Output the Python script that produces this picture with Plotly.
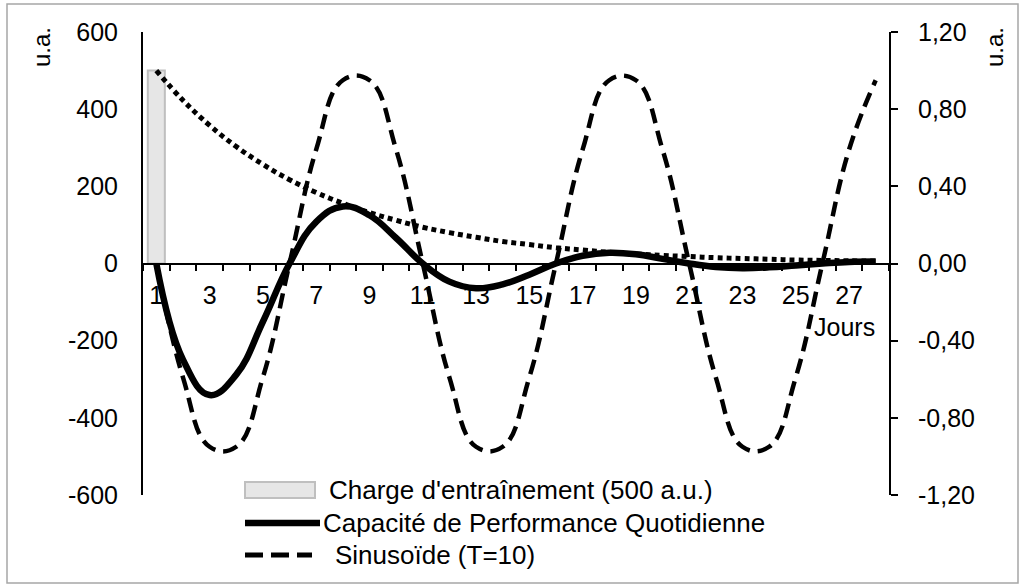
import plotly.graph_objects as go

# ---------------- data ----------------
jours = list(range(1, 29))
charge_jours = [1]
charge = [500]
decroissance = [500, 423, 358, 303, 257, 217, 184, 156, 132, 112, 94, 80, 68, 57,
                49, 41, 35, 29, 25, 21, 18, 15, 13, 11, 9, 8, 7, 6]
capacite = [0, -249, -341, -288, -151, 0, 108, 148, 125, 66, 0, -47, -64, -54,
            -29, 0, 20, 28, 24, 12, 0, -9, -12, -10, -5, 0, 4, 5]
sinus = [0, -0.59, -0.95, -0.95, -0.59, 0, 0.59, 0.95, 0.95, 0.59,
         0, -0.59, -0.95, -0.95, -0.59, 0, 0.59, 0.95, 0.95, 0.59,
         0, -0.59, -0.95, -0.95, -0.59, 0, 0.59, 0.95]
x_tick_vals = [1, 3, 5, 7, 9, 11, 13, 15, 17, 19, 21, 23, 25, 27]
y_tick_vals = [-600, -400, -200, 0, 200, 400, 600]
y_tick_text = ["-600", "-400", "-200", "0", "200", "400", "600"]
y2_tick_vals = [-1.2, -0.8, -0.4, 0, 0.4, 0.8, 1.2]
y2_tick_text = ["-1,20", "-0,80", "-0,40", "0,00", "0,40", "0,80", "1,20"]
legend_labels = ["Charge d'entraînement (500 a.u.)",
                 "Capacité de Performance Quotidienne",
                 "Sinusoïde (T=10)"]

# ---------------- layout geometry ----------------
W, H = 1024, 588
ML, MR, MT, MB = 143, 135, 32, 93
PW, PH = W - ML - MR, H - MT - MB


def px(x):
    return (x - ML) / PW


def py(y):
    return (H - MB - y) / PH


FONT = "Liberation Sans, Arial, sans-serif"
FS = 25
FS_LEG = 26
SMOOTH = 1.2

fig = go.Figure()

fig.add_trace(go.Bar(x=charge_jours, y=charge, width=0.64,
                     marker=dict(color="#e6e6e6", line=dict(color="#bfbfbf", width=2)),
                     yaxis="y"))
fig.add_trace(go.Scatter(x=jours, y=decroissance, mode="lines",
                         line=dict(color="black", width=5, dash="5px,4px",
                                   shape="spline", smoothing=SMOOTH),
                         yaxis="y"))
fig.add_trace(go.Scatter(x=jours, y=capacite, mode="lines",
                         line=dict(color="black", width=6.5, shape="spline", smoothing=SMOOTH),
                         yaxis="y"))
fig.add_trace(go.Scatter(x=jours, y=sinus, mode="lines",
                         line=dict(color="black", width=4.5, dash="15px,8px",
                                   shape="spline", smoothing=SMOOTH),
                         yaxis="y2"))

fig.update_layout(
    width=W, height=H,
    margin=dict(l=ML, r=MR, t=MT, b=MB, pad=0),
    paper_bgcolor="white", plot_bgcolor="white",
    showlegend=False,
    font=dict(family=FONT, size=FS, color="black"),
    xaxis=dict(range=[0.5, 28.5], anchor="free", position=0.5,
               showline=True, linecolor="black", linewidth=2,
               showgrid=False, zeroline=False,
               tickmode="array", tickvals=x_tick_vals,
               ticks="", ticklabelstandoff=9,
               minor=dict(tick0=0.5, dtick=1, ticks="outside", ticklen=6,
                          tickwidth=2, tickcolor="black", showgrid=False),
               tickfont=dict(size=FS)),
    yaxis=dict(range=[-600, 600], showline=True, linecolor="black", linewidth=2,
               showgrid=False, zeroline=False, ticks="",
               tickmode="array", tickvals=y_tick_vals, ticktext=y_tick_text,
               ticklabelstandoff=18, tickfont=dict(size=FS)),
    yaxis2=dict(range=[-1.2, 1.2], overlaying="y", side="right", anchor="x",
                showline=True, linecolor="black", linewidth=2,
                showgrid=False, zeroline=False,
                ticks="outside", ticklen=7, tickwidth=2, tickcolor="black",
                tickmode="array", tickvals=y2_tick_vals, ticktext=y2_tick_text,
                ticklabelstandoff=15, tickfont=dict(size=FS)),
)

shapes = []
annotations = []

# outer border
shapes.append(dict(type="rect", xref="paper", yref="paper",
                   x0=px(7), x1=px(1018), y0=py(583), y1=py(4),
                   line=dict(color="#a6a6a6", width=1.5), fillcolor="rgba(0,0,0,0)",
                   layer="below"))

# axis titles
annotations.append(dict(text="u.a.", xref="paper", yref="paper", x=px(42), y=py(47),
                        textangle=-90, showarrow=False, font=dict(size=24),
                        xanchor="center", yanchor="middle"))
annotations.append(dict(text="u.a.", xref="paper", yref="paper", x=px(995), y=py(47),
                        textangle=-90, showarrow=False, font=dict(size=24),
                        xanchor="center", yanchor="middle"))
annotations.append(dict(text="Jours", xref="paper", yref="paper", x=px(877), y=py(327),
                        showarrow=False, xanchor="right", yanchor="middle",
                        font=dict(size=FS)))

# custom legend
r1, r2, r3 = 490, 523, 555
shapes.append(dict(type="rect", xref="paper", yref="paper",
                   x0=px(245), x1=px(315), y0=py(r1 + 8), y1=py(r1 - 8),
                   fillcolor="#e6e6e6", line=dict(color="#bfbfbf", width=2)))
shapes.append(dict(type="line", xref="paper", yref="paper",
                   x0=px(245), x1=px(320), y0=py(r2), y1=py(r2),
                   line=dict(color="black", width=6.5)))
shapes.append(dict(type="line", xref="paper", yref="paper",
                   x0=px(245), x1=px(312), y0=py(r3), y1=py(r3),
                   line=dict(color="black", width=5, dash="18px,8px")))
for lab, xx, yy in zip(legend_labels, [327, 321, 333], [r1, r2, r3]):
    annotations.append(dict(text=lab, xref="paper", yref="paper", x=px(xx), y=py(yy),
                            showarrow=False, xanchor="left", yanchor="middle",
                            font=dict(size=FS_LEG)))

fig.update_layout(shapes=shapes, annotations=annotations)

fig.write_html("out.html")
